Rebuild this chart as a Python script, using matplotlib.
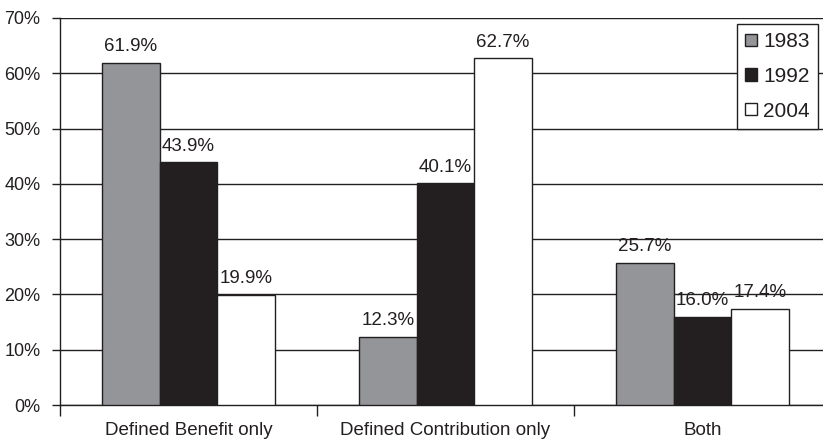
import numpy as np
import matplotlib
matplotlib.use("Agg")
import matplotlib.pyplot as plt
from matplotlib.ticker import FuncFormatter

categories = ["Defined Benefit only", "Defined Contribution only", "Both"]
years = ["1983", "1992", "2004"]
shares = {
    "1983": [61.9, 12.3, 25.7],
    "1992": [43.9, 40.1, 16.0],
    "2004": [19.9, 62.7, 17.4],
}
colors = {"1983": "#949598", "1992": "#231f20", "2004": "#ffffff"}

plt.rcParams["font.family"] = ["Liberation Sans", "DejaVu Sans"]
plt.rcParams["font.size"] = 13.5
ink = "#231f20"

fig = plt.figure(figsize=(8.23, 4.42), dpi=100)
ax = fig.add_axes([60 / 823, 1 - 405 / 442, 771 / 823, 387 / 442])

x = np.arange(len(categories))
w = 0.224
for k, yr in enumerate(years):
    pos = x + (k - 1) * w
    bars = ax.bar(pos, shares[yr], width=w, color=colors[yr], edgecolor=ink,
                  linewidth=1.0, label=yr, zorder=3)
    for b, v in zip(bars, shares[yr]):
        ax.annotate(f"{v:.1f}%", (b.get_x() + b.get_width() / 2, v),
                    xytext=(0, 5.5), textcoords="offset points",
                    ha="center", va="bottom", color=ink, zorder=4)

ax.set_xlim(-0.5, 2.5)
ax.set_ylim(0, 70)
ax.set_yticks(np.arange(0, 71, 10))
ax.yaxis.set_major_formatter(FuncFormatter(lambda v, pos: f"{v:.0f}%"))
ax.yaxis.grid(True, color=ink, linewidth=1.0, zorder=0)
ax.set_axisbelow(True)

# category labels sit between boundary ticks
ax.set_xticks([-0.5, 0.5, 1.5])
ax.set_xticklabels([])
ax.set_xticks(x, minor=True)
ax.set_xticklabels(categories, minor=True, color=ink)
ax.tick_params(axis="x", which="major", length=8, width=1, color=ink, direction="out")
ax.tick_params(axis="x", which="minor", length=0, pad=12.5)
ax.tick_params(axis="y", length=6, width=1, color=ink, direction="out", pad=8,
               labelcolor=ink, labelsize=13)

for s in ["top", "right"]:
    ax.spines[s].set_visible(False)
for s in ["left", "bottom"]:
    ax.spines[s].set_linewidth(1.0)
    ax.spines[s].set_color(ink)

leg = ax.legend(loc="upper right", bbox_to_anchor=((818 - 60) / 771, 1 - 6 / 387),
                bbox_transform=ax.transAxes, fontsize=15,
                frameon=True, fancybox=False, edgecolor=ink, framealpha=1,
                handlelength=0.55, handleheight=0.55, handletextpad=0.3,
                labelspacing=0.75, borderpad=0.4, borderaxespad=0)
leg.get_frame().set_linewidth(1.0)
for t in leg.get_texts():
    t.set_color(ink)

fig.savefig("out.png", dpi=100)
